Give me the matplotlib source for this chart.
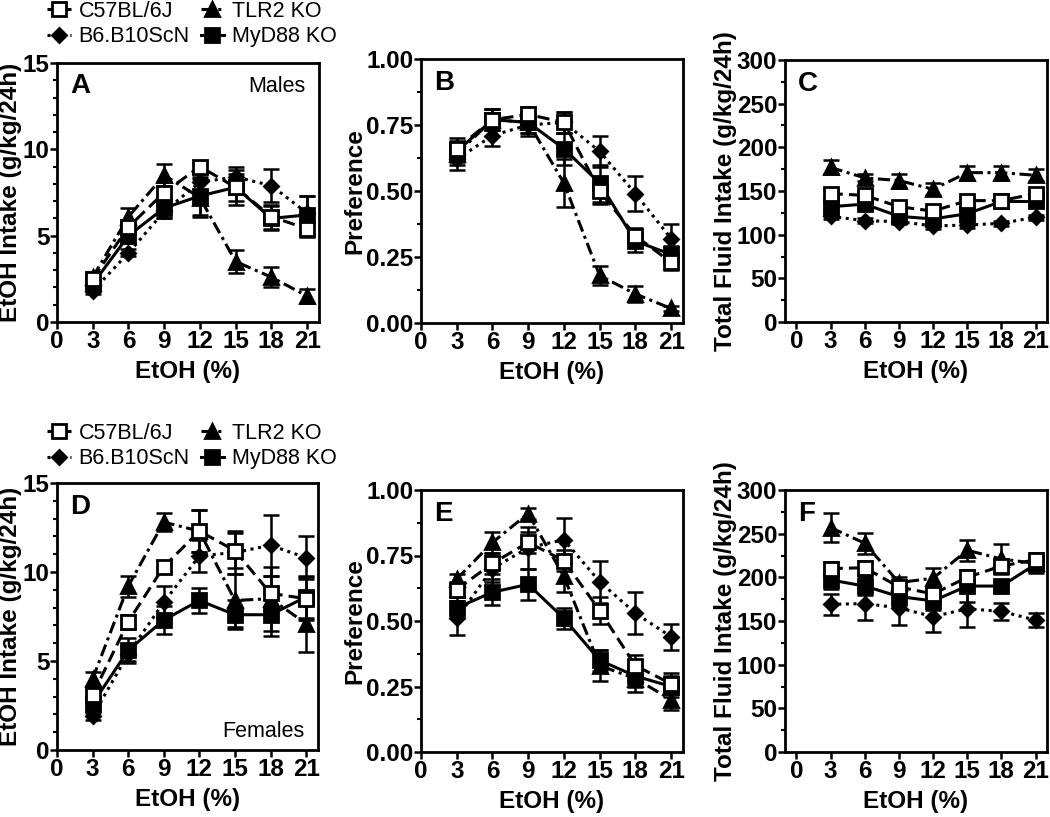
import matplotlib
matplotlib.use("Agg")
import matplotlib.pyplot as plt
from matplotlib.ticker import MultipleLocator

plt.rcParams['font.family'] = ['Liberation Sans', 'DejaVu Sans']

# EtOH concentration (%)
conc = [3, 6, 9, 12, 15, 18, 21]
strains = ["C57BL/6J", "B6.B10ScN", "TLR2 KO", "MyD88 KO"]

# --- A: EtOH intake, males (g/kg/24h)
a_c57 = [2.5, 5.5, 7.5, 9.0, 7.8, 6.1, 5.4]
a_c57_err = [0.3, 0.4, 0.6, 0.3, 1.0, 0.7, 0.5]
a_b6 = [1.8, 4.0, 6.4, 8.1, 8.4, 7.9, 6.3]
a_b6_err = [0.2, 0.2, 0.4, 0.5, 0.6, 0.95, 1.0]
a_tlr2 = [2.6, 6.1, 8.5, 7.2, 3.5, 2.6, 1.5]
a_tlr2_err = [0.3, 0.5, 0.65, 1.1, 0.65, 0.6, 0.4]
a_myd = [2.2, 5.0, 6.6, 7.3, 7.8, 6.0, 6.2]
a_myd_err = [0.3, 0.4, 0.6, 1.1, 0.8, 0.7, 1.1]

# --- B: preference, males
b_c57 = [0.66, 0.77, 0.79, 0.76, 0.50, 0.33, 0.23]
b_c57_err = [0.04, 0.04, 0.03, 0.04, 0.05, 0.03, 0.03]
b_b6 = [0.62, 0.71, 0.75, 0.76, 0.65, 0.49, 0.32]
b_b6_err = [0.04, 0.04, 0.04, 0.04, 0.06, 0.065, 0.055]
b_tlr2 = [0.64, 0.77, 0.76, 0.53, 0.18, 0.11, 0.055]
b_tlr2_err = [0.04, 0.04, 0.04, 0.09, 0.035, 0.03, 0.01]
b_myd = [0.65, 0.77, 0.76, 0.66, 0.53, 0.31, 0.26]
b_myd_err = [0.04, 0.04, 0.04, 0.06, 0.07, 0.04, 0.03]

# --- C: total fluid intake, males (g/kg/24h)
c_c57 = [147, 145, 132, 127, 139, 139, 147]
c_c57_err = [4, 4, 4, 4, 4, 4, 4]
c_b6 = [121, 116, 115, 110, 111, 113, 120]
c_b6_err = [3, 3, 3, 3, 3, 3, 3]
c_tlr2 = [177, 165, 162, 152, 171, 171, 168]
c_tlr2_err = [8, 4, 8, 7, 8, 8, 7]
c_myd = [132, 135, 121, 118, 124, 138, 138]
c_myd_err = [4, 4, 4, 4, 4, 4, 4]

# --- D: EtOH intake, females (g/kg/24h)
d_c57 = [3.1, 7.2, 10.3, 12.3, 11.2, 8.8, 8.5]
d_c57_err = [0.3, 0.4, 0.3, 1.2, 1.0, 1.0, 1.2]
d_b6 = [1.9, 5.4, 8.3, 10.9, 11.1, 11.5, 10.8]
d_b6_err = [0.2, 0.4, 0.9, 0.9, 1.2, 1.7, 1.2]
d_tlr2 = [4.0, 9.2, 12.8, 12.3, 8.4, 8.5, 7.1]
d_tlr2_err = [0.4, 0.6, 0.5, 1.2, 1.5, 1.8, 1.6]
d_myd = [2.6, 5.6, 7.3, 8.4, 7.6, 7.6, 8.6]
d_myd_err = [0.3, 0.7, 0.8, 0.7, 0.8, 1.2, 1.2]

# --- E: preference, females
e_c57 = [0.62, 0.72, 0.80, 0.73, 0.54, 0.33, 0.26]
e_c57_err = [0.03, 0.04, 0.04, 0.04, 0.05, 0.04, 0.04]
e_b6 = [0.51, 0.70, 0.78, 0.81, 0.65, 0.53, 0.44]
e_b6_err = [0.065, 0.05, 0.08, 0.085, 0.08, 0.08, 0.05]
e_tlr2 = [0.66, 0.80, 0.91, 0.67, 0.33, 0.28, 0.20]
e_tlr2_err = [0.02, 0.04, 0.02, 0.06, 0.06, 0.05, 0.04]
e_myd = [0.55, 0.61, 0.64, 0.51, 0.35, 0.29, 0.25]
e_myd_err = [0.04, 0.05, 0.06, 0.04, 0.04, 0.04, 0.04]

# --- F: total fluid intake, females (g/kg/24h)
f_c57 = [210, 211, 189, 181, 200, 213, 220]
f_c57_err = [8, 8, 8, 8, 8, 8, 8]
f_b6 = [169, 170, 165, 155, 164, 161, 151]
f_b6_err = [12, 19, 20, 18, 21, 10, 8]
f_tlr2 = [257, 239, 194, 199, 231, 221, 216]
f_tlr2_err = [17, 12, 6, 12, 12, 17, 8]
f_myd = [197, 190, 178, 173, 190, 190, 215]
f_myd_err = [10, 10, 10, 10, 18, 5, 10]

W, H = 1050, 817


def px_box(l, r, t, b):
    return [l / W, 1 - b / H, (r - l) / W, (b - t) / H]


lw = 2.2
styles = {
    "C57BL/6J": dict(marker='s', ms=10.5, mfc='white', dashes=(4, 2)),
    "B6.B10ScN": dict(marker='D', ms=7, mfc='black', dashes=(1, 1.5)),
    "TLR2 KO": dict(marker='^', ms=10, mfc='black', dashes=(4, 1.5, 1, 1.5)),
    "MyD88 KO": dict(marker='s', ms=10.5, mfc='black', dashes=None),
}


def draw(ax, series, ylim, ymaj, ymin, ylabel, xmin, letter):
    handles = {}
    # dotted first, open squares on top
    for name in ["B6.B10ScN", "TLR2 KO", "MyD88 KO", "C57BL/6J"]:
        y, err = series[name]
        st = styles[name]
        ax.errorbar(conc, y, yerr=err, fmt='none', ecolor='black',
                    elinewidth=1.8, capsize=5.5, capthick=1.8, zorder=2)
        line, = ax.plot(conc, y, color='black', lw=lw, marker=st['marker'],
                        ms=st['ms'], mfc=st['mfc'], mec='black', mew=2,
                        zorder=3)
        if st['dashes'] is not None:
            line.set_dashes(st['dashes'])
        handles[name] = line
    ax.set_xlim(xmin, 22)
    ax.set_ylim(*ylim)
    ax.set_xticks([0] + conc)
    ax.yaxis.set_major_locator(MultipleLocator(ymaj))
    ax.yaxis.set_minor_locator(MultipleLocator(ymin))
    ax.tick_params(axis='both', which='major', direction='out', length=5,
                   width=1.8, labelsize=17.5)
    ax.tick_params(axis='x', which='major', pad=1)
    ax.tick_params(axis='y', which='major', pad=0.5)
    ax.tick_params(axis='y', which='minor', direction='out', length=3,
                   width=1.5)
    for lab in ax.get_xticklabels() + ax.get_yticklabels():
        lab.set_fontweight('bold')
    for sp in ax.spines.values():
        sp.set_linewidth(2)
    ax.set_xlabel("EtOH (%)", fontsize=17.5, fontweight='bold', labelpad=5)
    ax.set_ylabel(ylabel, fontsize=17.5, fontweight='bold', labelpad=0)
    ax.text(0.05, 0.91, letter, transform=ax.transAxes, fontsize=20,
            fontweight='bold', va='center', ha='left')
    return handles


fig = plt.figure(figsize=(W / 100, H / 100), dpi=100)

panels = [
    ("A", px_box(57, 319, 63, 322), {"C57BL/6J": (a_c57, a_c57_err), "B6.B10ScN": (a_b6, a_b6_err),
                                     "TLR2 KO": (a_tlr2, a_tlr2_err), "MyD88 KO": (a_myd, a_myd_err)},
     (0, 15), 5, 1, "EtOH Intake (g/kg/24h)", 0),
    ("B", px_box(421, 683, 59, 323), {"C57BL/6J": (b_c57, b_c57_err), "B6.B10ScN": (b_b6, b_b6_err),
                                      "TLR2 KO": (b_tlr2, b_tlr2_err), "MyD88 KO": (b_myd, b_myd_err)},
     (0, 1), 0.25, 0.125, "Preference", 0),
    ("C", px_box(785, 1047, 60, 322), {"C57BL/6J": (c_c57, c_c57_err), "B6.B10ScN": (c_b6, c_b6_err),
                                       "TLR2 KO": (c_tlr2, c_tlr2_err), "MyD88 KO": (c_myd, c_myd_err)},
     (0, 300), 50, 25, "Total Fluid Intake (g/kg/24h)", -1),
    ("D", px_box(57, 318, 483, 750), {"C57BL/6J": (d_c57, d_c57_err), "B6.B10ScN": (d_b6, d_b6_err),
                                      "TLR2 KO": (d_tlr2, d_tlr2_err), "MyD88 KO": (d_myd, d_myd_err)},
     (0, 15), 5, 1, "EtOH Intake (g/kg/24h)", 0),
    ("E", px_box(421, 683, 490, 752), {"C57BL/6J": (e_c57, e_c57_err), "B6.B10ScN": (e_b6, e_b6_err),
                                       "TLR2 KO": (e_tlr2, e_tlr2_err), "MyD88 KO": (e_myd, e_myd_err)},
     (0, 1), 0.25, 0.125, "Preference", 0),
    ("F", px_box(785, 1047, 490, 752), {"C57BL/6J": (f_c57, f_c57_err), "B6.B10ScN": (f_b6, f_b6_err),
                                        "TLR2 KO": (f_tlr2, f_tlr2_err), "MyD88 KO": (f_myd, f_myd_err)},
     (0, 300), 50, 25, "Total Fluid Intake (g/kg/24h)", -1),
]

axes = {}
for letter, box, series, ylim, ymaj, ymin, ylabel, xmin in panels:
    ax = fig.add_axes(box)
    h = draw(ax, series, ylim, ymaj, ymin, ylabel, xmin, letter)
    axes[letter] = (ax, h)

# sex labels
axes["A"][0].text(0.95, 0.91, "Males", transform=axes["A"][0].transAxes,
                  fontsize=15.5, ha='right', va='center')
axes["D"][0].text(0.95, 0.07, "Females", transform=axes["D"][0].transAxes,
                  fontsize=15.5, ha='right', va='center')

# legends above A and D
for letter, yc in [("A", 1 - 24 / H), ("D", 1 - 446 / H)]:
    ax, h = axes[letter]
    ax.legend([h[s] for s in strains], strains, loc='center',
              bbox_to_anchor=(192 / W, yc), bbox_transform=fig.transFigure,
              ncol=2, frameon=False, fontsize=15.5, handlelength=1.1,
              handletextpad=0.35, columnspacing=0.5, labelspacing=0.2,
              borderpad=0, borderaxespad=0)

fig.savefig("out.png", dpi=100)
